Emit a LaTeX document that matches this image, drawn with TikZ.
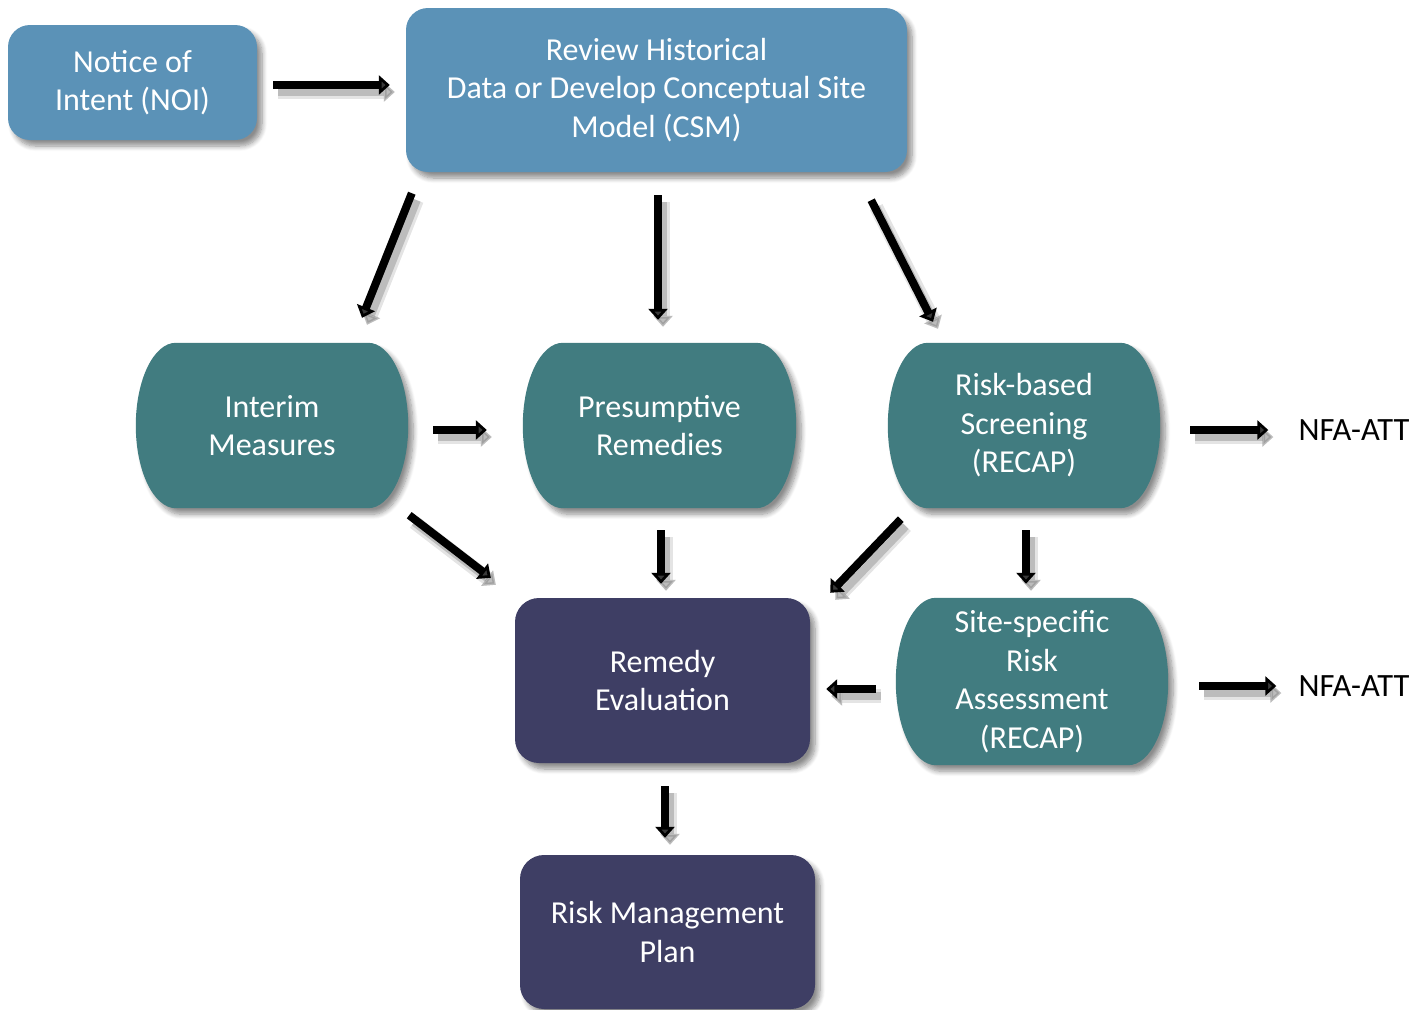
\documentclass[tikz,border=0pt]{standalone}
\usepackage{fontspec}
\setmainfont{Carlito}
\usetikzlibrary{calc,arrows.meta,shadows.blur}
\pgfdeclarelayer{background}
\pgfsetlayers{background,main}
\definecolor{bluebox}{RGB}{91,146,183}
\definecolor{tealbox}{RGB}{65,124,128}
\definecolor{navybox}{RGB}{62,62,100}

\tikzset{
  softshadow/.style={blur shadow={shadow xshift=5pt, shadow yshift=-6pt,
      shadow blur radius=5pt, shadow blur steps=8, shadow opacity=45}},
  boxtext/.style={text=white, align=center, inner sep=0pt,
      font=\fontsize{32}{38.5}\selectfont},
  bluebox/.style={boxtext, fill=bluebox, rounded corners=22pt, softshadow},
  navybox/.style={boxtext, fill=navybox, rounded corners=24pt, softshadow},
  tealnode/.style={boxtext},
  endlabel/.style={text=black, inner sep=0pt, font=\fontsize{32.5}{38}\selectfont},
  flow/.style={line width=8pt, -{Triangle[length=11pt,width=19pt]},
      preaction={draw=black!30, opacity=0.35, line width=14pt,
        transform canvas={xshift=5pt,yshift=-7pt}},
      preaction={draw=black!45, opacity=0.45, line width=8pt,
        transform canvas={xshift=5pt,yshift=-7pt}}}
}

% pill-like shape with half-elliptic sides drawn behind a node
\newcommand\tealshape[1]{%
  \fill[tealbox, softshadow] let \p1=(#1.north west), \p2=(#1.south east) in
    (\x1+40pt,\y1) -- (\x2-40pt,\y1)
    arc[start angle=90, end angle=-90, x radius=40pt, y radius={(\y1-\y2)/2}]
    -- (\x1+40pt,\y2)
    arc[start angle=270, end angle=90, x radius=40pt, y radius={(\y1-\y2)/2}]
    -- cycle;}

\begin{document}
\begin{tikzpicture}[x=1pt,y=1pt]
\useasboundingbox (0,0) rectangle (1418,-1009);

% boxes
\node[bluebox, minimum width=249pt, minimum height=115pt] (noi) at (132.5,-82.5)
  {Notice of\\Intent (NOI)};
\node[bluebox, minimum width=501pt, minimum height=164pt] (csm) at (656.5,-90)
  {Review Historical\\Data or Develop Conceptual Site\\Model (CSM)};

\node[tealnode, minimum width=272pt, minimum height=165pt] (interim) at (272,-425.5)
  {Interim\\Measures};
\node[tealnode, minimum width=273pt, minimum height=165pt] (presump) at (659.5,-425.5)
  {Presumptive\\Remedies};
\node[tealnode, minimum width=272pt, minimum height=165pt] (riskb) at (1024,-425.5)
  {Risk-based\\Screening\\(RECAP)};
\node[tealnode, minimum width=272pt, minimum height=167pt] (site) at (1032,-681.5)
  {Site-specific\\Risk\\Assessment\\(RECAP)};

\node[navybox, minimum width=295pt, minimum height=165pt] (remedy) at (662.5,-680.5)
  {Remedy\\Evaluation};
\node[navybox, minimum width=295pt, minimum height=154pt] (rmp) at (667.5,-932)
  {Risk Management\\Plan};

\node[endlabel] (nfa1) at (1354,-430) {NFA-ATT};
\node[endlabel] (nfa2) at (1354,-686) {NFA-ATT};

\begin{pgfonlayer}{background}
  \tealshape{interim}
  \tealshape{presump}
  \tealshape{riskb}
  \tealshape{site}
\end{pgfonlayer}

% connectors
\draw[flow] ($(noi.east)+(16,-2.5)$) -- ($(csm.west)+(-16,5)$);
\draw[flow] ($(csm.south west)+(6,-21)$) -- ($(interim.north)+(90,25)$);
\draw[flow] ($(csm.south)+(1.5,-23)$) -- ($(presump.north)+(-1.5,23)$);
\draw[flow] ($(csm.south east)+(-36,-28)$) -- ($(riskb.north)+(-91,21)$);
\draw[flow] ($(interim.east)+(25,-4.5)$) -- ($(presump.west)+(-36,-4.5)$);
\draw[flow] ($(riskb.east)+(30,-4.5)$) -- ($(nfa1.west)+(-30,0)$);
\draw[flow] ($(interim.south east)+(1,-7)$) -- ($(remedy.north west)+(-24,20)$);
\draw[flow] ($(presump.south)+(1.5,-22)$) -- ($(remedy.north)+(-1.5,14)$);
\draw[flow] ($(riskb.south west)+(13,-11)$) -- ($(remedy.north east)+(20,5)$);
\draw[flow] ($(riskb.south)+(2,-22)$) -- ($(site.north)+(-6,14)$);
\draw[flow] ($(site.west)+(-20,-7.5)$) -- ($(remedy.east)+(16,-8.5)$);
\draw[flow] ($(site.east)+(31,-4.5)$) -- ($(nfa2.west)+(-22,0)$);
\draw[flow] ($(remedy.south)+(2.5,-23)$) -- ($(rmp.north)+(-2.5,17)$);
\end{tikzpicture}
\end{document}
